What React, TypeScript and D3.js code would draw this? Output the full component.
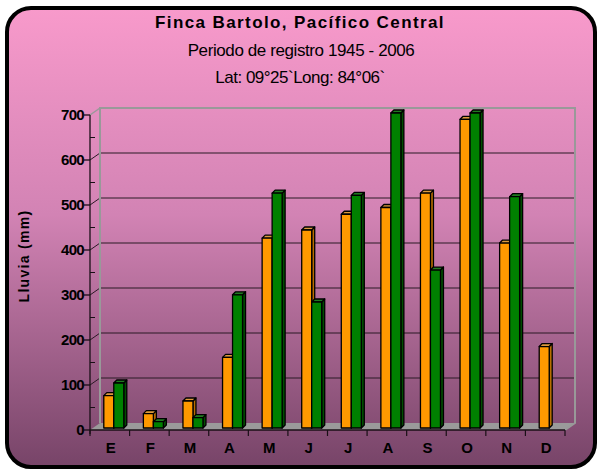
import React from 'react';
import * as d3 from 'd3';

const months = ['E', 'F', 'M', 'A', 'M', 'J', 'J', 'A', 'S', 'O', 'N', 'D'];
const serie1 = [72, 32, 60, 157, 422, 440, 475, 490, 522, 686, 411, 181];
const serie2: (number | null)[] = [100, 14, 23, 296, 522, 280, 517, 700, 351, 700, 514, null];
const yTicks = [0, 100, 200, 300, 400, 500, 600, 700];
const yMinor = [50, 150, 250, 350, 450, 550, 650];

const W = 601, H = 472;
const FX0 = 90, FX1 = 565, FY0 = 430, FY1 = 115;
const DX = 10, DY = -7;
const BW = 10, BD = 3;
const font = "'Liberation Sans', Arial, sans-serif";

const x = d3.scaleBand<number>().domain(months.map((_, i) => i)).range([FX0, FX1]).padding(0);
const y = d3.scaleLinear().domain([0, 700]).range([FY0, FY1]);

function Bar({ bx, v, front, side, top }: { bx: number; v: number; front: string; side: string; top: string }) {
  const y0 = FY0 - 2;
  const yt = y(v) - 2;
  return (
    <g stroke="#000" strokeWidth={1.3} strokeLinejoin="round">
      <polygon points={`${bx + BW},${yt} ${bx + BW + BD},${yt - BD} ${bx + BW + BD},${y0 - BD} ${bx + BW},${y0}`} fill={side} />
      <polygon points={`${bx},${yt} ${bx + BD},${yt - BD} ${bx + BW + BD},${yt - BD} ${bx + BW},${yt}`} fill={top} />
      <rect x={bx} y={yt} width={BW} height={y0 - yt} fill={front} />
    </g>
  );
}

export default function App() {
  const bx0 = FX0 + DX, by0 = FY0 + DY, bx1 = FX1 + DX, by1 = FY1 + DY;
  return (
    <svg width={W} height={H} style={{ position: 'absolute', left: 0, top: 0 }} fontFamily={font}>
      <defs>
        <linearGradient id="bg" x1="0" y1="0" x2="0" y2="1">
          <stop offset="0%" stopColor="#f89acb" />
          <stop offset="45%" stopColor="#d283b4" />
          <stop offset="100%" stopColor="#774468" />
        </linearGradient>
      </defs>
      <rect x={0} y={0} width={W} height={H} fill="#fff" />
      <rect x={7} y={8} width={588} height={459} rx={24} ry={24} fill="url(#bg)" stroke="#000" strokeWidth={4} />

      <text x={300} y={28} textAnchor="middle" fontSize={17} fontWeight="bold" letterSpacing={1.4}>Finca Bartolo, Pacífico Central</text>
      <text x={301} y={56} textAnchor="middle" fontSize={17} letterSpacing={-0.4}>Periodo de registro 1945 - 2006</text>
      <text x={300} y={83} textAnchor="middle" fontSize={17} letterSpacing={-0.5}>Lat: 09°25`Long: 84°06`</text>

      {/* floor */}
      <polygon points={`${FX0},${FY0} ${FX1},${FY0} ${bx1},${by0} ${bx0},${by0}`} fill="#9a9a9a" />

      {/* back wall gridlines */}
      {yTicks.filter(t => t > 0 && t < 700).map(t => (
        <g key={t}>
          <line x1={bx0} x2={bx1} y1={y(t) + DY} y2={y(t) + DY} stroke="#2a1a25" strokeWidth={1} />
          <line x1={FX0} x2={bx0} y1={y(t)} y2={y(t) + DY} stroke="#2a1a25" strokeWidth={1} />
        </g>
      ))}
      {/* wall outlines */}
      <polyline points={`${bx0},${by0} ${bx0},${by1} ${bx1},${by1} ${bx1},${by0} ${FX1},${FY0}`} fill="none" stroke="#999" strokeWidth={2} />
      <line x1={FX0} y1={FY1} x2={bx0} y2={by1} stroke="#999" strokeWidth={1.5} />

      {/* bars */}
      {months.map((_, i) => {
        const c = (x(i) as number) + x.bandwidth() / 2 + 4;
        const v2 = serie2[i];
        return (
          <g key={i}>
            <Bar bx={c - BW} v={serie1[i]} front="#ff9900" side="#b86e00" top="#dd9a3c" />
            {v2 != null && <Bar bx={c} v={v2} front="#008000" side="#004d00" top="#207a20" />}
          </g>
        );
      })}

      {/* y axis */}
      <line x1={FX0} x2={FX0} y1={FY1} y2={FY0 + 4} stroke="#1a0f16" strokeWidth={1.3} />
      {yTicks.map(t => (
        <g key={t}>
          <line x1={FX0 - 6} x2={FX0} y1={y(t)} y2={y(t)} stroke="#1a0f16" strokeWidth={1.3} />
          <text x={FX0 - 6} y={y(t)} dy="0.36em" textAnchor="end" fontSize={15} fontWeight="bold" letterSpacing={-0.7}>{t}</text>
        </g>
      ))}
      {yMinor.map(t => (
        <line key={t} x1={FX0} x2={FX0 + 5} y1={y(t)} y2={y(t)} stroke="#1a0f16" strokeWidth={1} />
      ))}
      <text transform={`translate(29,256) rotate(-90)`} textAnchor="middle" fontSize={14} fontWeight="bold" letterSpacing={1.3}>Lluvia (mm)</text>

      {/* x axis */}
      <line x1={FX0} x2={FX1} y1={FY0} y2={FY0} stroke="#1a0f16" strokeWidth={1.3} />
      {d3.range(13).map(i => {
        const tx = FX0 + i * x.bandwidth();
        return <line key={i} x1={tx} x2={tx} y1={FY0} y2={FY0 + 6} stroke="#1a0f16" strokeWidth={1.2} />;
      })}
      {months.map((m, i) => (
        <text key={i} x={(x(i) as number) + x.bandwidth() / 2 + 1} y={453} textAnchor="middle" fontSize={15} fontWeight="bold">{m}</text>
      ))}
    </svg>
  );
}
